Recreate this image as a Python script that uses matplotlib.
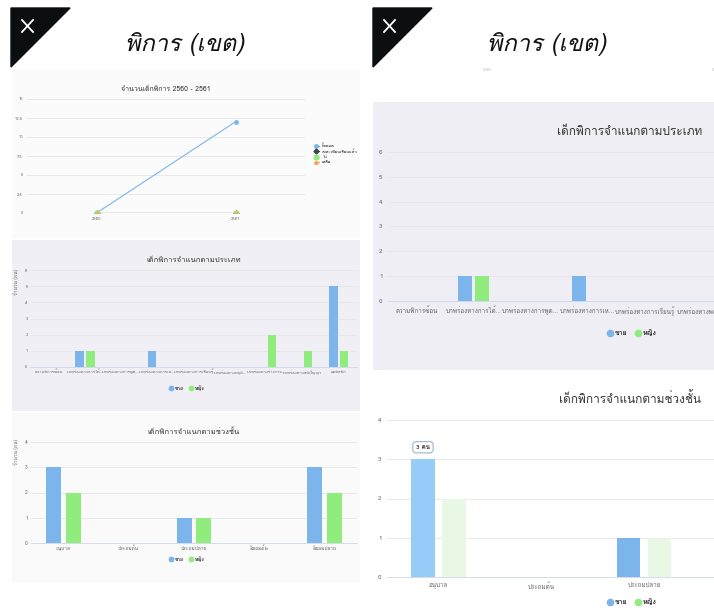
import numpy as np
import matplotlib.pyplot as plt
from matplotlib import font_manager
from matplotlib.ft2font import FT2Font
from matplotlib.patches import Rectangle, Polygon
from matplotlib.lines import Line2D

years = ['2560', '2561']
line_names = ['ทั้งหมด', 'ลงทะเบียนเรียนแล้ว', 'ไม่', 'เหลือ']
line_values = [[0, 12], [0, 0], [0, 0], [0, 0]]

types = ['ความพิการซ้อน', 'บกพร่องทางการได้...', 'บกพร่องทางการพูด...',
         'บกพร่องทางการเห...', 'บกพร่องทางการเรียนรู้', 'บกพร่องทางพฤติ...',
         'บกพร่องทางร่างกาย...', 'บกพร่องทางสติปัญญา', 'ออทิสติก']
type_male = [0, 1, 0, 1, 0, 0, 0, 0, 5]
type_female = [0, 1, 0, 0, 0, 0, 2, 1, 1]

levels = ['อนุบาล', 'ประถมต้น', 'ประถมปลาย', 'มัธยมต้น', 'มัธยมปลาย']
level_male = [3, 0, 1, 0, 3]
level_female = [2, 0, 1, 0, 2]

sex_names = ['ชาย', 'หญิง']


def find_thai():
    for f in font_manager.fontManager.ttflist:
        try:
            if 0x0E01 in FT2Font(f.fname).get_charmap():
                return f.name
        except Exception:
            pass
    return None


thai = find_thai()
fams = [thai, 'DejaVu Sans'] if thai else ['DejaVu Sans']
plt.rcParams['font.family'] = fams

W, H = 714, 613
fig = plt.figure(figsize=(W / 100, H / 100), dpi=100)
fig.patch.set_facecolor('white')

blue = '#7cb5ec'
green = '#90ed7d'
black = '#434348'
orange = '#f7a35c'
grid_c = '#e6e6e6'
lab_c = '#666666'


def fx(x):
    return x / W


def fy(y):
    return 1 - y / H


def rect(x0, y0, x1, y1, color):
    fig.add_artist(Rectangle((fx(x0), fy(y1)), fx(x1 - x0), (y1 - y0) / H,
                             transform=fig.transFigure, color=color, lw=0, zorder=0))


def px_axes(x0, y0, x1, y1):
    ax = fig.add_axes([fx(x0), fy(y1), fx(x1 - x0), (y1 - y0) / H])
    ax.set_facecolor('none')
    for s in ax.spines.values():
        s.set_visible(False)
    ax.spines['bottom'].set_visible(True)
    ax.spines['bottom'].set_color('#ccd6eb')
    ax.spines['bottom'].set_linewidth(0.6)
    ax.tick_params(length=0, colors=lab_c)
    ax.grid(axis='y', color=grid_c, lw=0.6)
    ax.set_axisbelow(True)
    return ax


def header(x_off):
    fig.add_artist(Polygon([(fx(x_off), fy(8)), (fx(x_off + 59), fy(8)), (fx(x_off), fy(67))],
                           closed=True, transform=fig.transFigure, color='#0b0f10', zorder=2))
    for a, b in [((11, 20), (22, 32)), ((22, 20), (11, 32))]:
        fig.add_artist(Line2D([fx(x_off + a[0]), fx(x_off + b[0])], [fy(a[1]), fy(b[1])],
                              transform=fig.transFigure, color='white', lw=1.3, zorder=3))
    fig.text(fx(x_off + 174), fy(44), 'พิการ (เขต)', ha='center', va='center',
             fontsize=17, style='italic', color='#111111')


def legend_dots(ax, x, y, size):
    handles = [Line2D([], [], ls='none', marker='o', color=c, markersize=size * 0.9)
               for c in (blue, green)]
    ax.legend(handles, sex_names, loc='center', bbox_to_anchor=(fx(x), fy(y)),
              bbox_transform=fig.transFigure, ncol=2, frameon=False, fontsize=size,
              handletextpad=0.3, columnspacing=1.2, handlelength=0.8,
              labelcolor='#333333', prop={'weight': 'bold', 'size': size})


def bars(ax, male, female, cols=None):
    x = np.arange(len(male))
    cm, cf = (blue, green) if cols is None else cols
    ax.bar(x - 0.15, male, 0.23, color=cm, zorder=2)
    ax.bar(x + 0.15, female, 0.23, color=cf, zorder=2)
    ax.set_xlim(-0.5, len(male) - 0.5)
    return x


# ---------------- left screen ----------------
header(11)
rect(12, 70, 360, 238, '#fbfbfb')
rect(12, 240, 360, 411, '#f0eff5')
rect(12, 413, 360, 583, '#fafafa')

# line chart
ax1 = px_axes(27, 99, 305, 213)
xs = np.arange(len(years))
for name, vals, c, m in zip(line_names, line_values, [blue, black, green, orange], ['o', 'D', 's', '^']):
    ax1.plot(xs, vals, color=c, lw=0.8, marker=m, markersize=2.5, label=name)
ax1.set_xlim(-0.5, 1.5)
ax1.set_ylim(0, 15)
ax1.set_yticks([0, 2.5, 5, 7.5, 10, 12.5, 15])
ax1.set_yticklabels(['0', '2.5', '5', '7.5', '10', '12.5', '15'])
ax1.set_xticks(xs)
ax1.set_xticklabels(years)
ax1.tick_params(labelsize=3, pad=3)
ax1.spines['bottom'].set_visible(False)
ax1.set_title('จำนวนเด็กพิการ 2560 - 2561', fontsize=5, color='#333333', pad=6)
ax1.legend(loc='center left', bbox_to_anchor=(fx(310), fy(154)), bbox_transform=fig.transFigure,
           frameon=False, fontsize=3, handlelength=1.2, labelspacing=0.3)

# type chart (left)
ax2 = px_axes(30.5, 270, 357, 367)
x2 = bars(ax2, type_male, type_female)
ax2.set_ylim(0, 6)
ax2.set_yticks(range(7))
ax2.set_xticks(x2)
ax2.set_xticklabels(types)
ax2.tick_params(labelsize=3, pad=2)
ax2.set_title('เด็กพิการจำแนกตามประเภท', fontsize=5.5, color='#333333', pad=6)
ax2.set_ylabel('จำนวน (คน)', fontsize=3.5, color=lab_c, labelpad=4)
ax2.yaxis.set_label_coords(-0.035, 0.88)
legend_dots(ax2, 187, 388, 3.5)

# level chart (left)
ax3 = px_axes(30.6, 442, 357, 543)
x3 = bars(ax3, level_male, level_female)
ax3.set_ylim(0, 4)
ax3.set_yticks(range(5))
ax3.set_xticks(x3)
ax3.set_xticklabels(levels)
ax3.tick_params(labelsize=3.5, pad=2)
ax3.set_title('เด็กพิการจำแนกตามช่วงชั้น', fontsize=5.5, color='#333333', pad=6)
ax3.set_ylabel('จำนวน (คน)', fontsize=3.5, color=lab_c)
ax3.yaxis.set_label_coords(-0.035, 0.9)
legend_dots(ax3, 187, 559, 3.5)

# ---------------- right screen ----------------
header(373)
fig.text(fx(488), fy(70), years[0], fontsize=3, color='#bbbbbb', ha='center', va='center')
fig.text(fx(712), fy(70), years[1], fontsize=3, color='#bbbbbb', ha='left', va='center')
rect(373, 102, 714, 370, '#efeef4')

ax4 = px_axes(388, 152, 901, 301)
x4 = bars(ax4, type_male, type_female)
ax4.set_ylim(0, 6)
ax4.set_yticks(range(7))
ax4.set_xticks(x4)
ax4.set_xticklabels(types)
ax4.tick_params(labelsize=4.5, pad=4)
ax4.set_title('เด็กพิการจำแนกตามประเภท', fontsize=8.5, color='#333333', pad=12,
              x=(630 - 388) / (901 - 388))
legend_dots(ax4, 632, 333, 5)

ax5 = px_axes(387, 420, 901, 577)
x5 = np.arange(len(levels))
ax5.bar(x5 - 0.15, level_male, 0.23, color=[ '#95ccf8', blue, blue, blue, blue], zorder=2)
ax5.bar(x5 + 0.15, level_female, 0.23, color='#e8f8e4', zorder=2)
ax5.set_xlim(-0.5, len(levels) - 0.5)
ax5.set_ylim(0, 4)
ax5.set_yticks(range(5))
ax5.set_xticks(x5)
ax5.set_xticklabels(levels)
ax5.tick_params(labelsize=4.5, pad=4)
ax5.set_title('เด็กพิการจำแนกตามช่วงชั้น', fontsize=8.5, color='#333333', pad=12,
              x=(630 - 387) / (901 - 387))
ax5.annotate(f'{level_male[0]} คน', xy=(x5[0] - 0.15, level_male[0]), xytext=(0, 12),
             textcoords='offset pixels', ha='center', va='center', fontsize=4.5,
             fontweight='bold', color='#333333',
             bbox=dict(boxstyle='round,pad=0.5', fc='white', ec='#9fb3c8', lw=0.8))
legend_dots(ax5, 632, 602, 5)

fig.savefig('out.png', dpi=100)
